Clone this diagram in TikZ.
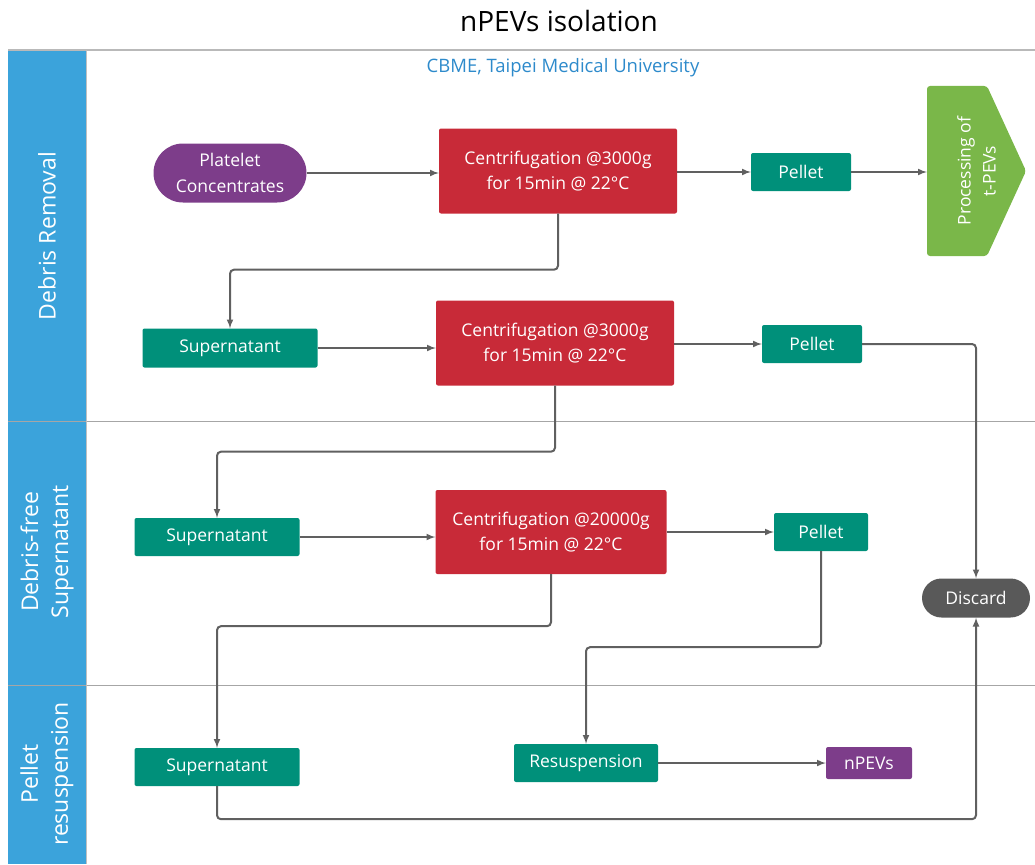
\documentclass[tikz,border=0pt]{standalone}
\usepackage{fontspec}
\setmainfont{Open Sans}
\usepackage{tikz}
\usetikzlibrary{shapes}
\usetikzlibrary{arrows}
\usetikzlibrary{positioning}
\definecolor{lanebl}{HTML}{3BA3DB}
\definecolor{cbmebl}{HTML}{2D8ACB}
\definecolor{cfred}{HTML}{C82A38}
\definecolor{snteal}{HTML}{00907A}
\definecolor{pcpurp}{HTML}{7D3D8A}
\definecolor{tpgreen}{HTML}{7AB749}
\definecolor{dcgray}{HTML}{595959}
\definecolor{lngray}{HTML}{606060}
\tikzstyle{bx}=[rectangle,rounded corners=2pt,text=white,inner sep=0pt,align=center,font=\fontsize{17.5}{25}\selectfont]
\tikzstyle{cf}=[bx,fill=cfred]
\tikzstyle{sn}=[bx,fill=snteal,minimum height=38]
\tikzstyle{pill}=[rounded rectangle,text=white,inner sep=0pt,align=center,font=\fontsize{17.5}{26}\selectfont]
\tikzstyle{ln}=[draw=lngray,line width=2pt,rounded corners=4pt,-latex]
\tikzstyle{lane}=[rotate=90,text=white,align=center,font=\fontsize{23}{30}\selectfont]

\begin{document}
\begin{tikzpicture}[x=1pt,y=-1pt]
\useasboundingbox (0,0) rectangle (1035,864);

%lanes
\fill[lanebl] (8,50) rectangle (86,864);
\draw[gray!55,line width=2pt] (8,50) -- (1035,50);
\draw[gray!70,line width=1pt] (8,421) -- (1035,421);
\draw[gray!70,line width=1pt] (8,685) -- (1035,685);
\draw[gray!50,line width=0.8pt] (86,50) -- (86,864);
\node[lane] (l1) at (47,236) {Debris Removal};
\node[lane] (l2) at (47,552) {Debris-free\\Supernatant};
\node[lane] (l3) at (47,774) {Pellet\\resuspension};

%title
\node[font=\fontsize{28}{32}\selectfont] (title) at (559,21) {nPEVs isolation};
\node[text=cbmebl,font=\fontsize{18.5}{22}\selectfont] (cbme) at (563,68) {CBME, Taipei Medical University};

%debris removal
\node[pill,fill=pcpurp,minimum width=153,minimum height=59] (pc) at (230,173) {Platelet\\Concentrates};
\node[cf,minimum width=238,minimum height=85] (c1) at (558,171) {Centrifugation @3000g\\for 15min @ 22°C};
\node[sn,minimum width=100] (p1) at (801,172) {Pellet};
%t-PEVs arrow
\fill[tpgreen,rounded corners=3pt] (927,86) -- (987,86) -- (1026,171) -- (987,256) -- (927,256) -- cycle;
\node[rotate=90,text=white,align=center,inner sep=0pt,minimum width=170,minimum height=99,
  font=\fontsize{17.5}{25}\selectfont] (tp) at (976.5,171) {Processing of\\t-PEVs};
\node[sn,minimum width=175,minimum height=39] (s1) at (230,348) {Supernatant};
\node[cf,minimum width=238,minimum height=85] (c2) at (555,343) {Centrifugation @3000g\\for 15min @ 22°C};
\node[sn,minimum width=100] (p2) at (812,344) {Pellet};

%debris-free supernatant
\node[sn,minimum width=165] (s2) at (217,537) {Supernatant};
\node[cf,minimum width=231,minimum height=84] (c3) at (551,532) {Centrifugation @20000g\\for 15min @ 22°C};
\node[sn,minimum width=94] (p3) at (821,532) {Pellet};
\node[pill,fill=dcgray,minimum width=108,minimum height=39] (dc) at (976,598) {Discard};

%pellet resuspension
\node[sn,minimum width=165] (s3) at (217,767) {Supernatant};
\node[sn,minimum width=144] (rs) at (586,763) {Resuspension};
\node[bx,fill=pcpurp,minimum width=86,minimum height=32] (nv) at (869,763) {nPEVs};

%arrows
\draw[ln] (pc.east) -- (pc.east -| c1.west);
\draw[ln] (c1.east |- p1) -- (p1);
\draw[ln] (p1.east) -- (p1.east -| tp.north);
\draw[ln] (c1.south) -- ++(0,56) -| (s1.north);
\draw[ln] (s1.east) -- (s1.east -| c2.west);
\draw[ln] (c2.east |- p2) -- (p2);
\draw[ln] (p2.east) -| (dc.north);
\draw[ln] (c2.south) -- ++(0,66) -| (s2.north);
\draw[ln] (s2.east) -- (s2.east -| c3.west);
\draw[ln] (c3.east |- p3) -- (p3);
\draw[ln] (c3.south) -- ++(0,52) -| (s3.north);
\draw[ln] (p3.south) -- ++(0,96) -| (rs.north);
\draw[ln] (rs) -- (nv);
\draw[ln] (s3.south) -- ++(0,33) -| (dc.south);
\end{tikzpicture}
\end{document}
